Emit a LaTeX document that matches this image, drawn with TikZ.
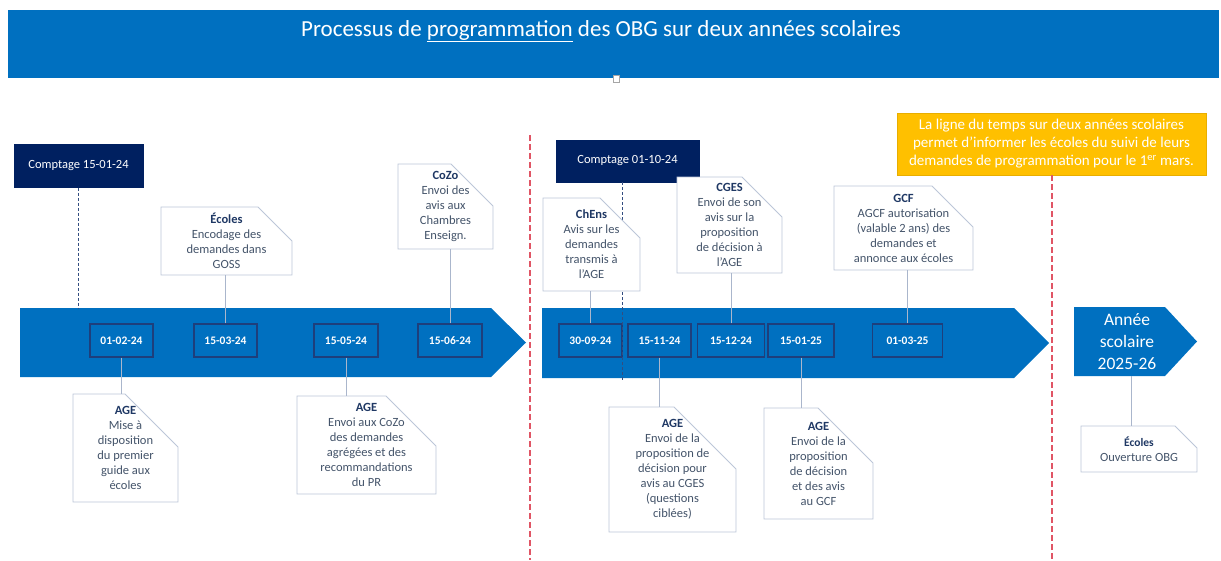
\documentclass[tikz,border=0pt]{standalone}
\usepackage{fontspec}
\setmainfont{Carlito}
\definecolor{mblue}{HTML}{0070C0}
\definecolor{navy}{HTML}{002060}
\definecolor{datebord}{HTML}{1E3F7C}
\definecolor{callbord}{HTML}{BCC6D8}
\definecolor{conncol}{HTML}{AAB6CC}
\definecolor{headcol}{HTML}{1F3864}
\definecolor{bodycol}{HTML}{44546A}
\definecolor{redd}{HTML}{E05565}
\definecolor{yell}{HTML}{FFC000}
\definecolor{yellbord}{HTML}{E8AE00}
\tikzset{
  datebox/.style={draw=datebord, line width=1.1pt, fill=mblue, text=white, inner sep=0pt,
    font=\fontsize{11.5}{13}\selectfont\bfseries},
  callborder/.style={draw=callbord, line width=0.9pt, fill=white},
  calltext/.style={inner sep=0pt, align=center, text=bodycol, font=\fontsize{12.5}{15}\selectfont},
  conn/.style={draw=conncol, line width=0.9pt},
  navydash/.style={draw=navy!80!white, line width=0.9pt, dash pattern=on 3pt off 2pt},
  reddash/.style={draw=redd, line width=2.6pt, dash pattern=on 6pt off 3pt},
  countbox/.style={fill=navy, draw=navy, text=white, inner sep=0pt, font=\fontsize{12.5}{15}\selectfont},
}
\newcommand{\hd}[1]{{\bfseries\color{headcol}#1}}
\newcommand{\callout}[7]{%
  \filldraw[callborder] (#2,#3) -- ({#4-#6},#3) -- (#4,{#3+#6}) -- (#4,#5) -- (#2,#5) -- cycle;
  \node[calltext, minimum width={(#4-#2)*1pt}, minimum height={(#5-#3)*1pt}] (#1) at ({(#2+#4)/2},{(#3+#5)/2}) {#7};
}
\begin{document}
\begin{tikzpicture}[x=1pt,y=-1pt]
\useasboundingbox (0,0) rectangle (1221,560);
% title band
\fill[mblue] (8,10) rectangle (1219,78);
\node[text=white, font=\fontsize{23}{27}\selectfont] (title) at (601,31) {Processus de \underline{programmation} des OBG sur deux années scolaires};
\filldraw[fill=white, draw=gray!70, line width=0.5pt] (613.5,75.5) rectangle (619,82);

% red dashed separators
\coordinate (r1t) at (530,135);
\coordinate (r1b) at (530,560);
\draw[reddash] (r1t) -- (r1b);

% main arrows
\fill[mblue] (20,308) -- (491,308) -- (526,342.5) -- (491,377) -- (20,377) -- cycle;
\fill[mblue] (542,308) -- (1014,308) -- (1049,343) -- (1014,378) -- (542,378) -- cycle;
\fill[mblue] (1074,307) -- (1165,307) -- (1197,341.5) -- (1165,376) -- (1074,376) -- cycle;
\node[text=white, align=center, font=\fontsize{17.5}{22}\selectfont] (annee) at (1127,341.5) {Année\\scolaire\\2025-26};
\coordinate (anneeb) at (1131,376);

% date boxes
\node[datebox, minimum width=63pt, minimum height=33pt] (d1) at (121.5,340.5) {01-02-24};
\node[datebox, minimum width=63pt, minimum height=33pt] (d2) at (225.5,340.5) {15-03-24};
\node[datebox, minimum width=64pt, minimum height=33pt] (d3) at (346,340.5) {15-05-24};
\node[datebox, minimum width=64pt, minimum height=33pt] (d4) at (450,340.5) {15-06-24};
\node[datebox, minimum width=63pt, minimum height=33pt] (e1) at (590.5,340.5) {30-09-24};
\node[datebox, minimum width=63pt, minimum height=33pt] (e2) at (659.5,340.5) {15-11-24};
\node[datebox, minimum width=67pt, minimum height=33pt] (e3) at (731,340.5) {15-12-24};
\node[datebox, minimum width=66pt, minimum height=33pt] (e4) at (801,340.5) {15-01-25};
\node[datebox, minimum width=70pt, minimum height=33pt] (e5) at (907.5,340.5) {01-03-25};

% comptage boxes and dashed lines
\node[countbox, minimum width=129pt, minimum height=43pt] (c1) at (78.5,166) {Comptage 15-01-24};
\coordinate (c1b) at (78.5,308);
\draw[navydash] (c1.south) -- (c1b);
\node[countbox, minimum width=143pt, minimum height=42pt] (c2) at (627.5,161) {Comptage 01-10-24};
\coordinate (c2b) at (622,382);
\draw[navydash] ([xshift=-5.5pt]c2.south) -- (c2b);

% callouts top left
\callout{ecol1}{161}{207}{292}{275}{34}{\hd{Écoles}\\Encodage des\\demandes dans\\GOSS}
\callout{cozo}{398}{164}{493}{249}{42}{\hd{CoZo}\\Envoi des\\avis aux\\Chambres\\Enseign.}
% callouts bottom left
\callout{age1}{73}{394}{178}{502}{53}{\hd{AGE}\\Mise à\\disposition\\du premier\\guide aux\\écoles}
\callout{age2}{297}{396}{436}{494}{50}{\hd{AGE}\\Envoi aux CoZo\\des demandes\\agrégées et des\\recommandations\\du PR}
% callouts top right
\callout{chens}{543}{198}{640}{291}{40}{\hd{ChEns}\\Avis sur les\\demandes\\transmis à\\l’AGE}
\callout{cges}{677}{177}{782}{273}{40}{\hd{CGES}\\Envoi de son\\avis sur la\\proposition\\de décision à\\l’AGE}
\callout{gcf}{834}{186}{973}{270}{41}{\hd{GCF}\\AGCF autorisation\\(valable 2 ans) des\\demandes et\\annonce aux écoles}
% callouts bottom right
\callout{age3}{609}{407}{736}{532}{62}{\hd{AGE}\\Envoi de la\\proposition de\\décision pour\\avis au CGES\\(questions\\ciblées)}
\callout{age4}{764}{408}{873}{519}{55}{\hd{AGE}\\Envoi de la\\proposition\\de décision\\et des avis\\au GCF}
\callout{ecol2}{1081}{426}{1197}{472}{22}{{\bfseries\color{headcol}\fontsize{11.5}{14}\selectfont Écoles}\\Ouverture OBG}

% connectors
\draw[conn] (d2.north) -- (d2.north |- ecol1.south);
\draw[conn] (d4.north) -- (d4.north |- cozo.south);
\draw[conn] (d1.south) -- (d1.south |- age1.north);
\draw[conn] (d3.south) -- (d3.south |- age2.north);
\draw[conn] (e1.north) -- (e1.north |- chens.south);
\draw[conn] (e3.north) -- (e3.north |- cges.south);
\draw[conn] (e5.north) -- (e5.north |- gcf.south);
\draw[conn] (e2.south) -- (e2.south |- age3.north);
\draw[conn] (e4.south) -- (e4.south |- age4.north);
\draw[conn] (anneeb) -- (anneeb |- ecol2.north);

% yellow note and right separator
\node[fill=yell, draw=yellbord, line width=0.8pt, text=white, align=center, inner sep=0pt,
  minimum width=309pt, minimum height=62pt, font=\fontsize{15}{18}\selectfont] (note) at (1051.5,144)
  {La ligne du temps sur deux années scolaires\\permet d’informer les écoles du suivi de leurs\\demandes de programmation pour le 1\textsuperscript{er} mars.};
\coordinate (r2b) at (1052,560);
\draw[reddash] ([xshift=0.5pt]note.south) -- (r2b);
\end{tikzpicture}
\end{document}
